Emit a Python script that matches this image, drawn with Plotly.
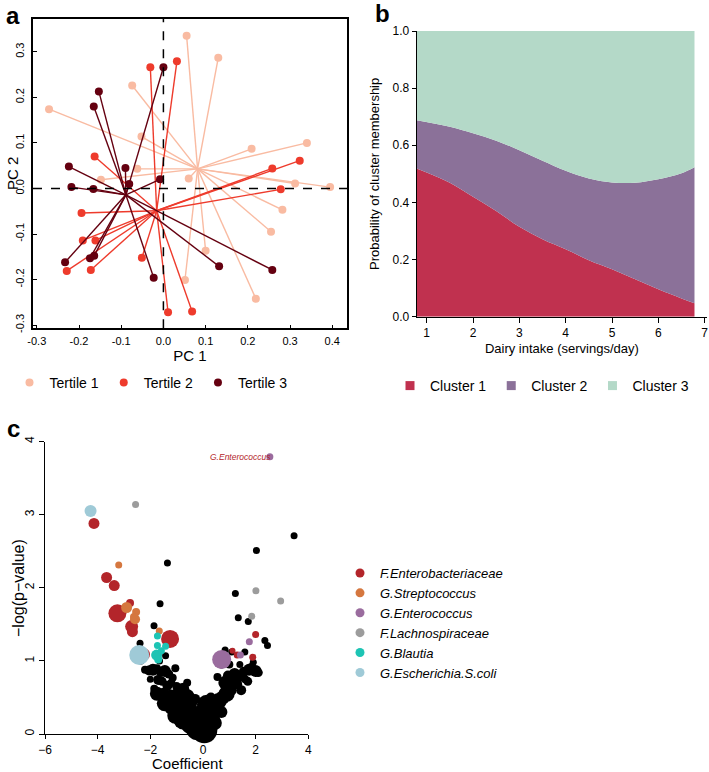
import plotly.graph_objects as go

FONT = "Liberation Sans, Arial, sans-serif"
W, H = 709, 772

# ---------------- Panel a: PCA by dairy tertile ----------------
tertile_names = ["Tertile 1", "Tertile 2", "Tertile 3"]
tertile_colors = ["#F9BBA2", "#EE3B2C", "#650010"]
t1_x = [0.055, 0.130, -0.074, -0.271, -0.052, 0.209, 0.340, -0.062, -0.148, 0.060, 0.312, 0.395, 0.282, 0.255, 0.100, 0.051, 0.219]
t1_y = [0.335, 0.287, 0.226, 0.174, 0.114, 0.087, 0.100, 0.043, 0.019, 0.022, 0.011, 0.003, -0.047, -0.095, -0.137, -0.201, -0.242]
t2_x = [-0.031, 0.032, -0.163, 0.258, 0.323, 0.278, -0.194, -0.191, -0.161, -0.229, -0.172, -0.051, 0.011, 0.068]
t2_y = [0.266, 0.279, 0.070, 0.044, 0.061, -0.002, -0.054, -0.114, -0.114, -0.181, -0.179, -0.152, -0.272, -0.270]
t3_x = [0.000, -0.153, -0.165, -0.224, -0.090, -0.218, -0.166, -0.081, -0.008, -0.233, -0.174, -0.164, -0.023, 0.132, 0.258]
t3_y = [0.266, 0.213, 0.180, 0.048, 0.045, 0.003, -0.001, 0.010, 0.020, -0.162, -0.153, -0.148, -0.196, -0.171, -0.179]
centroid_x = [0.081, -0.016, -0.089]
centroid_y = [0.043, -0.049, -0.014]

# ---------------- Panel b: cluster membership ----------------
dairy = [0.785, 1.5, 2, 2.5, 3, 3.5, 4, 4.5, 5, 5.5, 6, 6.5, 6.78]
cluster1 = [0.519, 0.469, 0.420, 0.370, 0.315, 0.271, 0.236, 0.198, 0.166, 0.131, 0.096, 0.064, 0.047]
cluster2 = [0.169, 0.196, 0.222, 0.246, 0.268, 0.275, 0.275, 0.286, 0.304, 0.338, 0.385, 0.438, 0.476]
cluster3 = [0.312, 0.335, 0.358, 0.384, 0.417, 0.454, 0.489, 0.516, 0.530, 0.531, 0.519, 0.498, 0.477]
cluster_names = ["Cluster 1", "Cluster 2", "Cluster 3"]
cluster_colors = ["#C0314F", "#8B7199", "#B4D9C8"]

# ---------------- Panel c: volcano ----------------
bg_x = [-1.35, -1.63, -1.86, -2.39, -1.42, -1.65, 3.46, 2.03, 1.23, 1.34, 1.72, 2.35, 2.45, 0.84, 1.09, 1.59, 1.91, -2.35,
        -2.05, -1.9, -1.75, -1.6, -1.45, -1.3, -1.15, -1.7, -1.55, -1.35, -1.2, -1.0, -0.75, -1.75, -1.5, -1.2, -0.85, -0.65,
        -1.45, -1.15, -0.9, -0.6, -1.05, -0.75, -0.45, -0.55, -0.3, -0.2, 0.05, 0.2, 0.35, 0.15, -0.1, 0.5, 0.6, 0.75, 0.9,
        1.05, 0.85, 1.15, 1.3, 0.95, 1.2, 1.4, 1.55, 1.75, 2.0, 1.85, 0.55, 1.45, 1.6, 0.7, 0.45, -1.85, -2.0, -0.45, -0.3,
        0.3, 1.0, 0.7, 1.4, -0.6, -1.05, 2.1, 1.7, -2.2]
bg_y = [2.34, 1.78, 1.48, 1.24, 1.07, 1.00, 2.71, 2.51, 1.92, 1.59, 1.54, 1.28, 1.21, 1.15, 1.12, 1.12, 0.98, 1.00,
        0.87, 0.88, 0.90, 0.85, 0.86, 0.82, 0.77, 0.74, 0.72, 0.66, 0.70, 0.65, 0.62, 0.55, 0.55, 0.50, 0.52, 0.50,
        0.42, 0.38, 0.33, 0.30, 0.25, 0.20, 0.15, 0.35, 0.22, 0.08, 0.05, 0.15, 0.25, 0.40, 0.30, 0.35, 0.45, 0.50, 0.55,
        0.60, 0.70, 0.72, 0.68, 0.80, 0.82, 0.78, 0.85, 0.88, 0.86, 0.92, 0.78, 0.60, 0.75, 0.30, 0.15, 0.62, 0.75, 0.42, 0.48,
        0.50, 0.95, 0.95, 0.95, 0.70, 0.90, 0.84, 0.72, 0.88]
bg_s = [7, 7, 7, 7, 7, 7, 7, 7, 7, 7, 7, 7, 7, 7, 7, 7, 7, 7,
        10, 12, 8, 10, 12, 9, 8, 10, 9, 10, 8, 9, 12, 14, 12, 16, 20, 18,
        16, 18, 20, 22, 16, 20, 22, 16, 18, 24, 26, 22, 16, 20, 14, 14, 16, 14, 16,
        12, 14, 12, 10, 10, 12, 10, 10, 12, 12, 8, 8, 10, 8, 12, 14, 8, 7, 12, 10,
        10, 8, 8, 7, 8, 8, 9, 9, 8]

taxa = ["F.Enterobacteriaceae", "G.Streptococcus", "G.Enterococcus", "F.Lachnospiraceae", "G.Blautia", "G.Escherichia.S.coli"]
taxa_colors = ["#B3252A", "#D5773F", "#9A6C9E", "#9C9C9C", "#1DC4B4", "#9FCAD7"]
entero_x = [-4.14, -3.66, -3.37, -3.25, -2.77, -2.71, -2.68, -2.24, -1.25, 2.00, 1.89, 1.30, 1.12]
entero_y = [2.88, 2.14, 2.03, 1.65, 1.79, 1.47, 1.40, 1.09, 1.30, 1.36, 1.05, 1.08, 1.14]
entero_s = [11, 11, 11, 18, 8, 13, 11, 12, 18, 7, 7, 7, 6]
strep_x = [-3.20, -2.90, -2.54, -2.58, -1.66, -2.62]
strep_y = [2.31, 1.73, 1.67, 1.57, 1.41, 1.60]
strep_s = [7, 11, 8, 10, 7, 8]
enteroc_x = [2.54, 0.71, 1.76, 1.42]
enteroc_y = [3.79, 1.02, 1.26, 1.08]
enteroc_s = [7, 19, 7, 7]
lachno_x = [-2.56, 2.01, 2.95, 1.85]
lachno_y = [3.14, 1.96, 1.82, 1.61]
lachno_s = [7, 7, 7, 7]
blautia_x = [-1.73, -1.42, -1.73, -1.76, -1.58, -1.70]
blautia_y = [1.34, 1.20, 1.21, 1.08, 1.14, 1.02]
blautia_s = [7, 7, 7, 11, 7, 8]
esch_x = [-4.27, -2.42]
esch_y = [3.05, 1.08]
esch_s = [12, 20]

fig = go.Figure()

# ---- panel a traces
tx = [t1_x, t2_x, t3_x]
ty = [t1_y, t2_y, t3_y]
for i in range(3):
    lx, ly = [], []
    for px, py in zip(tx[i], ty[i]):
        lx += [centroid_x[i], px, None]
        ly += [centroid_y[i], py, None]
    fig.add_trace(go.Scatter(x=lx, y=ly, mode="lines", line=dict(color=tertile_colors[i], width=1.4),
                             showlegend=False, hoverinfo="skip", xaxis="x", yaxis="y"))
    fig.add_trace(go.Scatter(x=tx[i], y=ty[i], mode="markers", name=tertile_names[i],
                             marker=dict(color=tertile_colors[i], size=8, opacity=1), legend="legend",
                             xaxis="x", yaxis="y"))

# ---- panel b traces
for vals, nm, col in zip([cluster1, cluster2, cluster3], cluster_names, cluster_colors):
    fig.add_trace(go.Scatter(x=dairy, y=vals, mode="lines", stackgroup="one", line=dict(width=0, shape="spline", color=col),
                             fillcolor=col, showlegend=False, xaxis="x2", yaxis="y2", name=nm))
for nm, col in zip(cluster_names, cluster_colors):
    fig.add_trace(go.Scatter(x=[None], y=[None], mode="markers", name=nm, legend="legend2",
                             marker=dict(symbol="square", size=9, color=col), xaxis="x2", yaxis="y2"))

# ---- panel c traces
fig.add_trace(go.Scatter(x=bg_x, y=bg_y, mode="markers",
                         marker=dict(color="black", size=bg_s, opacity=1, line=dict(width=0)),
                         showlegend=False, cliponaxis=False, xaxis="x3", yaxis="y3"))
groups = [(entero_x, entero_y, entero_s), (strep_x, strep_y, strep_s), (enteroc_x, enteroc_y, enteroc_s),
          (lachno_x, lachno_y, lachno_s), (blautia_x, blautia_y, blautia_s), (esch_x, esch_y, esch_s)]
for (gx, gy, gs), nm, col in zip(groups, taxa, taxa_colors):
    fig.add_trace(go.Scatter(x=gx, y=gy, mode="markers",
                             marker=dict(color=col, size=gs, opacity=1, line=dict(width=0)),
                             showlegend=False, cliponaxis=False, name=nm, xaxis="x3", yaxis="y3"))
for nm, col in zip(taxa, taxa_colors):
    fig.add_trace(go.Scatter(x=[None], y=[None], mode="markers", name="<i>" + nm + "</i>", legend="legend3",
                             marker=dict(color=col, size=9), xaxis="x3", yaxis="y3"))


def px_x(p):
    return p / W


def px_y(p):
    return 1 - p / H


axis_common = dict(showgrid=False, zeroline=False, showline=True, linecolor="black", tickcolor="black",
                   automargin=False, tickfont=dict(size=11, color="black"), title_font=dict(color="black"))

fig.update_layout(
    width=W, height=H, margin=dict(l=0, r=0, t=0, b=0, autoexpand=False),
    paper_bgcolor="white", plot_bgcolor="white",
    font=dict(family=FONT, color="black"),
    xaxis=dict(axis_common, domain=[px_x(33), px_x(347)], range=[-0.309, 0.435], mirror=True, linewidth=1.6,
               ticks="inside", ticklen=4, tickvals=[-0.3, -0.2, -0.1, 0.0, 0.1, 0.2, 0.3, 0.4],
               ticktext=["-0.3", "-0.2", "-0.1", "0.0", "0.1", "0.2", "0.3", "0.4"], ticklabelstandoff=2,
               title=dict(text="PC 1", font=dict(size=15), standoff=1), anchor="y"),
    yaxis=dict(axis_common, domain=[px_y(328.3), px_y(19)], range=[-0.307, 0.372], mirror=True, linewidth=1.6,
               ticks="inside", ticklen=4, tickvals=[-0.3, -0.2, -0.1, 0.0, 0.1, 0.2, 0.3],
               ticktext=["-0.3", "-0.2", "-0.1", "0.0", "0.1", "0.2", "0.3"], tickangle=-90, ticklabelstandoff=3,
               anchor="x"),
    xaxis2=dict(axis_common, domain=[px_x(416.7), px_x(707)], range=[0.785, 7.05], linewidth=1.2,
                ticks="outside", ticklen=5, tickvals=[1, 2, 3, 4, 5, 6, 7], tickfont=dict(size=12),
                title=dict(text="Dairy intake (servings/day)", font=dict(size=13), standoff=4), anchor="y2"),
    yaxis2=dict(axis_common, domain=[px_y(316.7), px_y(31)], range=[0, 1.0], linewidth=1.2,
                ticks="outside", ticklen=4, tickvals=[0, 0.2, 0.4, 0.6, 0.8, 1.0], tickfont=dict(size=12),
                ticktext=["0.0", "0.2", "0.4", "0.6", "0.8", "1.0"],
                title=dict(text="Probability of cluster membership", font=dict(size=13), standoff=9), anchor="x2"),
    xaxis3=dict(axis_common, domain=[px_x(45), px_x(308.3)], range=[-6, 4], linewidth=1.2,
                ticks="outside", ticklen=4, tickvals=[-6, -4, -2, 0, 2, 4], tickfont=dict(size=12),
                anchor="y3"),
    yaxis3=dict(axis_common, domain=[px_y(734), px_y(441.5)], range=[0, 4], linewidth=1.2,
                ticks="outside", ticklen=5, tickvals=[0, 1, 2, 3, 4], tickangle=-90, tickfont=dict(size=12),
                anchor="x3"),
    legend=dict(orientation="h", x=px_x(151), xanchor="center", y=px_y(383), yanchor="middle", traceorder="normal",
                font=dict(size=14), bgcolor="rgba(0,0,0,0)"),
    legend2=dict(orientation="h", x=px_x(542), xanchor="center", y=px_y(386), yanchor="middle", traceorder="normal",
                 font=dict(size=14), bgcolor="rgba(0,0,0,0)"),
    legend3=dict(orientation="v", x=px_x(340), xanchor="left", y=px_y(558), yanchor="top", traceorder="normal",
                 font=dict(size=13), bgcolor="rgba(0,0,0,0)", tracegroupgap=0),
    shapes=[
        dict(type="line", xref="x", yref="y domain", x0=0, x1=0, y0=0, y1=1, line=dict(color="black", width=1.5, dash="dash")),
        dict(type="line", xref="x domain", yref="y", x0=0, x1=1, y0=0, y1=0, line=dict(color="black", width=1.5, dash="dash")),
    ],
    annotations=[
        dict(text="<b>a</b>", x=px_x(4), y=px_y(0), xref="paper", yref="paper", xanchor="left", yanchor="top",
             showarrow=False, font=dict(size=24)),
        dict(text="<b>b</b>", x=px_x(373), y=px_y(-2), xref="paper", yref="paper", xanchor="left", yanchor="top",
             showarrow=False, font=dict(size=24)),
        dict(text="<b>c</b>", x=px_x(5), y=px_y(413), xref="paper", yref="paper", xanchor="left", yanchor="top",
             showarrow=False, font=dict(size=24)),
        dict(text="PC 2", x=px_x(12), y=px_y(174), xref="paper", yref="paper", xanchor="center", yanchor="middle",
             textangle=-90, showarrow=False, font=dict(size=15)),
        dict(text="\u2212log(p\u2212value)", x=px_x(18), y=px_y(588), xref="paper", yref="paper", xanchor="center",
             yanchor="middle", textangle=-90, showarrow=False, font=dict(size=16)),
        dict(text="Coefficient", x=px_x(188), y=px_y(763), xref="paper", yref="paper", xanchor="center",
             yanchor="middle", showarrow=False, font=dict(size=15)),
        dict(text="<i>G.Enterococcus</i>", x=enteroc_x[0], y=enteroc_y[0], xref="x3", yref="y3", xanchor="right",
             yanchor="middle", xshift=3, showarrow=False, font=dict(size=8.5, color="#B3252A")),
    ],
)

fig.write_html("out.html", config={"displayModeBar": False},
               post_script="document.body.style.margin='0px';document.body.style.overflow='hidden';")
